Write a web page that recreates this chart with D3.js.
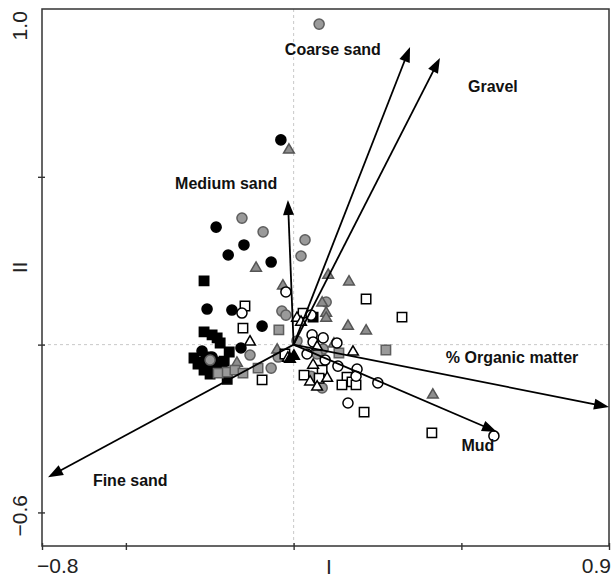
<!DOCTYPE html>
<html>
<head>
<meta charset="utf-8">
<script src="https://cdn.jsdelivr.net/npm/d3@7"></script>
<style>
    body { margin: 0; background: #fff; }
    svg { display: block; font-family: "Liberation Sans", Arial, Helvetica, sans-serif; }
    .load-label { font-weight: bold; font-size: 16px; fill: #111; }
    .tick-label { font-size: 21px; fill: #222; }
</style>
</head>
<body>
<svg id="biplot" width="611" height="578"></svg>
<script>
// Axis ranges and tick values (PCA axis I and II)
const xDomain = [-0.75, 0.94];
const yDomain = [-0.6, 1.0];
const xTickValues = [-0.75, -0.5, 0, 0.5, 0.94];
const yTickValues = [-0.5, 0, 0.5];

// Environmental loading vectors
const loadingNames = ["Coarse sand", "Gravel", "Medium sand", "% Organic matter", "Mud", "Fine sand"];
const loadingX = [0.347, 0.436, -0.017, 0.94, 0.606, -0.732];
const loadingY = [0.887, 0.854, 0.431, -0.186, -0.26, -0.395];
const labelX = [0.117, 0.594, -0.201, 0.651, 0.549, -0.487];
const labelY = [0.88, 0.77, 0.481, -0.037, -0.30, -0.406];

// Site scores, one array per symbol group
const blackCircles = [
    [-0.038, 0.610], [-0.231, 0.350], [-0.148, 0.297], [-0.195, 0.267], [-0.067, 0.246],
    [-0.258, 0.106], [-0.184, 0.103], [-0.094, 0.055], [-0.157, -0.010], [-0.273, -0.019],
    [-0.243, -0.037]
];
const blackSquares = [
    [-0.267, 0.190], [0.058, 0.082], [-0.267, 0.038], [-0.243, 0.029], [-0.228, 0.020],
    [-0.219, 0.005], [-0.192, -0.022], [-0.297, -0.040], [-0.279, -0.052], [-0.261, -0.037],
    [-0.252, -0.061], [-0.237, -0.052], [-0.231, -0.070], [-0.213, -0.070], [-0.207, -0.049],
    [-0.267, -0.076], [-0.249, -0.088], [-0.198, -0.103], [-0.285, -0.058]
];
const grayCircles = [
    [0.076, 0.955], [-0.154, 0.377], [-0.091, 0.336], [0.034, 0.312], [0.022, 0.264],
    [-0.035, 0.100], [-0.023, 0.088], [0.097, 0.127], [0.010, 0.011], [0.088, -0.013],
    [-0.130, -0.031], [-0.046, -0.037], [0.070, -0.028], [-0.067, -0.070], [0.052, -0.094],
    [0.085, -0.129], [-0.249, -0.046]
];
const grayTriangles = [
    [-0.014, 0.580], [-0.112, 0.228], [-0.032, 0.175], [0.103, 0.207], [0.165, 0.187],
    [0.085, 0.124], [0.097, 0.094], [0.097, 0.079], [0.162, 0.055], [0.216, 0.041],
    [-0.049, -0.016], [0.120, 0.002], [0.415, -0.150], [-0.169, -0.055]
];
const graySquares = [
    [-0.044, 0.044], [0.135, -0.025], [0.275, -0.016], [-0.106, -0.070], [-0.225, -0.085],
    [-0.198, -0.082], [-0.175, -0.076], [-0.151, -0.085]
];
const openSquares = [
    [-0.145, 0.115], [-0.151, 0.049], [0.028, 0.094], [0.216, 0.136], [0.323, 0.082],
    [-0.026, -0.028], [0.085, -0.076], [0.031, -0.091], [0.076, -0.100], [0.159, -0.097],
    [0.174, -0.111], [0.144, -0.120], [0.186, -0.120], [-0.094, -0.105], [0.210, -0.201],
    [0.412, -0.263]
];
const openCircles = [
    [-0.023, 0.157], [-0.154, 0.094], [0.052, 0.088], [0.055, 0.029], [0.088, 0.020],
    [0.129, 0.005], [0.058, 0.008], [0.040, -0.028], [0.094, -0.046], [0.132, -0.064],
    [0.189, -0.073], [0.186, -0.094], [0.251, -0.114], [0.162, -0.174], [0.597, -0.272]
];
const openTriangles = [
    [0.010, 0.079], [0.022, 0.067], [-0.130, 0.008], [-0.017, -0.040], [0.070, -0.007],
    [0.177, -0.022], [0.058, -0.061], [0.100, -0.100], [0.049, -0.111], [0.070, -0.126]
];
const blackTriangles = [
    [0.001, -0.034], [-0.011, -0.043]
];

// Drawing order and look of each symbol group
const symbolGroups = [
    { points: blackCircles, shape: d3.symbolCircle, size: 80, fill: "#000", stroke: "#000" },
    { points: blackSquares, shape: d3.symbolSquare, size: 88, fill: "#000", stroke: "#000" },
    { points: grayCircles, shape: d3.symbolCircle, size: 80, fill: "#9a9a9a", stroke: "#5e5e5e" },
    { points: grayTriangles, shape: d3.symbolTriangle, size: 50, fill: "#8e8e8e", stroke: "#555" },
    { points: graySquares, shape: d3.symbolSquare, size: 88, fill: "#9a9a9a", stroke: "#5e5e5e" },
    { points: openSquares, shape: d3.symbolSquare, size: 88, fill: "#fff", stroke: "#000" },
    { points: openCircles, shape: d3.symbolCircle, size: 80, fill: "#fff", stroke: "#000" },
    { points: openTriangles, shape: d3.symbolTriangle, size: 50, fill: "#fff", stroke: "#000" },
    { points: blackTriangles, shape: d3.symbolTriangle, size: 50, fill: "#000", stroke: "#000" }
];

const box = { width: 611, height: 578, left: 42, right: 609, top: 9, bottom: 546 };

const svg = d3.select("#biplot");
const x = d3.scaleLinear().domain(xDomain).range([box.left, box.right]);
const y = d3.scaleLinear().domain(yDomain).range([box.bottom, box.top]);

function drawGuides() {
    // dashed zero lines
    svg.append("line")
        .attr("x1", x(0)).attr("x2", x(0))
        .attr("y1", box.top).attr("y2", box.bottom)
        .attr("stroke", "#c8c8c8").attr("stroke-dasharray", "3,3");
    svg.append("line")
        .attr("x1", box.left).attr("x2", box.right)
        .attr("y1", y(0)).attr("y2", y(0))
        .attr("stroke", "#c8c8c8").attr("stroke-dasharray", "3,3");
}

function drawAxes() {
    const xAxis = svg.append("g")
        .attr("transform", `translate(0,${box.bottom})`)
        .call(d3.axisBottom(x).tickValues(xTickValues).tickFormat("").tickSizeOuter(0));
    const yAxis = svg.append("g")
        .attr("transform", `translate(${box.left},0)`)
        .call(d3.axisLeft(y).tickValues(yTickValues).tickFormat("").tickSizeOuter(0));

    // ticks cross the axis line, like the R original
    xAxis.selectAll(".tick line").attr("y1", -3).attr("y2", 4).attr("stroke", "#333").attr("stroke-width", 1.4);
    yAxis.selectAll(".tick line").attr("x1", 3).attr("x2", -4).attr("stroke", "#333").attr("stroke-width", 1.4);
    xAxis.select(".domain").remove();
    yAxis.select(".domain").remove();

    svg.append("rect")
        .attr("x", box.left).attr("y", box.top)
        .attr("width", box.right - box.left).attr("height", box.bottom - box.top)
        .attr("fill", "none").attr("stroke", "#333").attr("stroke-width", 1.5);

    // end labels only, as in the figure
    svg.append("text").attr("class", "tick-label")
        .attr("x", x(xDomain[0]) - 5).attr("y", 573)
        .attr("text-anchor", "start").text("\u22120.8");
    svg.append("text").attr("class", "tick-label")
        .attr("x", x(xDomain[1]) + 2).attr("y", 573)
        .attr("text-anchor", "end").text("0.9");
    svg.append("text").attr("class", "tick-label")
        .attr("x", x(0.105)).attr("y", 574)
        .attr("text-anchor", "middle").text("I");

    svg.append("text").attr("class", "tick-label")
        .attr("transform", `translate(27,${y(0.95)}) rotate(-90)`)
        .attr("text-anchor", "middle").text("1.0");
    svg.append("text").attr("class", "tick-label")
        .attr("transform", `translate(27,${y(-0.51)}) rotate(-90)`)
        .attr("text-anchor", "middle").text("\u22120.6");
    svg.append("text").attr("class", "tick-label")
        .attr("transform", `translate(27,${y(0.23)}) rotate(-90)`)
        .attr("text-anchor", "middle").text("II");
}

function drawSites() {
    for (const group of symbolGroups) {
        svg.append("g")
            .selectAll("path")
            .data(group.points)
            .join("path")
            .attr("transform", d => `translate(${x(d[0])},${y(d[1])})`)
            .attr("d", d3.symbol().type(group.shape).size(group.size))
            .attr("fill", group.fill)
            .attr("stroke", group.stroke)
            .attr("stroke-width", 1.5);
    }
}

function drawLoadings() {
    const rows = loadingNames.map((name, i) => ({
        name, vx: loadingX[i], vy: loadingY[i], lx: labelX[i], ly: labelY[i]
    }));
    const x0 = x(0), y0 = y(0);
    const headLen = 15, headHalf = 5.5;

    const arrows = svg.append("g").selectAll("g").data(rows).join("g");

    arrows.append("line")
        .attr("x1", x0).attr("y1", y0)
        .attr("x2", d => {
            const dx = x(d.vx) - x0, dy = y(d.vy) - y0, len = Math.hypot(dx, dy);
            return x(d.vx) - dx / len * (headLen - 2);
        })
        .attr("y2", d => {
            const dx = x(d.vx) - x0, dy = y(d.vy) - y0, len = Math.hypot(dx, dy);
            return y(d.vy) - dy / len * (headLen - 2);
        })
        .attr("stroke", "#000").attr("stroke-width", 1.8);

    arrows.append("path")
        .attr("d", d => {
            const tx = x(d.vx), ty = y(d.vy);
            const dx = tx - x0, dy = ty - y0, len = Math.hypot(dx, dy);
            const ux = dx / len, uy = dy / len;
            const bx = tx - ux * headLen, by = ty - uy * headLen;
            return `M${tx},${ty}L${bx - uy * headHalf},${by + ux * headHalf}L${bx + uy * headHalf},${by - ux * headHalf}Z`;
        })
        .attr("fill", "#000");

    svg.append("g").selectAll("text").data(rows).join("text")
        .attr("class", "load-label")
        .attr("x", d => x(d.lx))
        .attr("y", d => y(d.ly))
        .attr("dy", "0.35em")
        .attr("text-anchor", "middle")
        .text(d => d.name);
}

drawGuides();
drawSites();
drawAxes();
drawLoadings();
</script>
</body>
</html>
